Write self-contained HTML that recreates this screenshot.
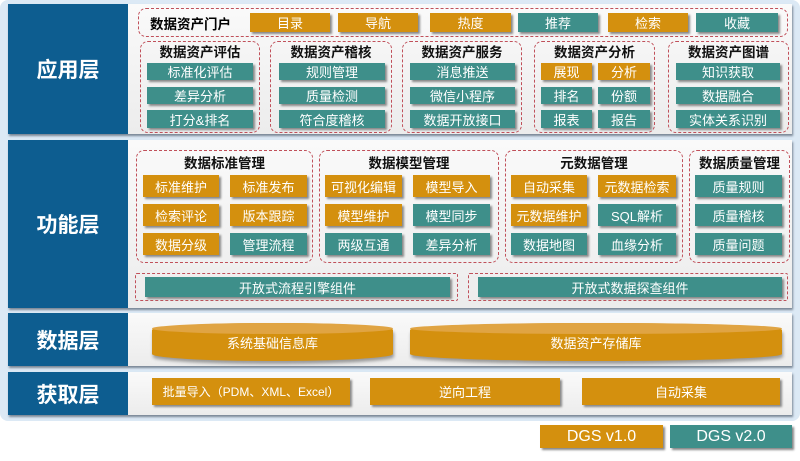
<!DOCTYPE html>
<html><head><meta charset="utf-8"><style>
*{margin:0;padding:0;box-sizing:border-box}
body{width:800px;height:461px;background:#fff;position:relative;overflow:hidden;font-family:"Liberation Sans","Noto Sans CJK SC",sans-serif}
div{position:absolute}
.bg{left:0;top:0;width:800px;height:421px;background:#dce9f5;border-radius:8px}
.layer{left:8px;width:784px;background:linear-gradient(#fafafa,#ececec);box-shadow:1px 2px 2px #7a8796}
.nav{left:0;top:0;width:120px;height:100%;background:#0d5d90;color:#fff;font-weight:bold;font-size:21px;display:flex;align-items:center;justify-content:center}
.dash{border:1.5px dashed #c0505a;border-radius:8px}
.t{font-weight:bold;font-size:13.5px;color:#111;text-align:center;width:100%;line-height:16px}
.b{color:#fff;font-size:13px;display:flex;align-items:center;justify-content:center;box-shadow:2px 2px 2px #888;white-space:nowrap}
.o{background:#d4900e}.g{background:#3e8f8a}
.cyl{background:#d4900e;color:#fff;font-size:13px;display:flex;align-items:center;justify-content:center;border-radius:50%/7px;box-shadow:1px 3px 3px #999}
.cyl::before{content:"";position:absolute;left:0;top:0;width:100%;height:11px;border-radius:50%;background:#e0a443}
</style></head><body>
<div class="bg"></div>

<div class="layer" style="top:4px;height:130px"><div class="nav">应用层</div></div>
<div class="dash" style="left:138px;top:8px;width:650px;height:29px"></div>
<div style="left:150px;top:13px;width:100px;font-weight:bold;font-size:13.5px">数据资产门户</div>
<div class="b o" style="left:250px;top:13px;width:80px;height:19px">目录</div>
<div class="b o" style="left:338px;top:13px;width:80px;height:19px">导航</div>
<div class="b o" style="left:430px;top:13px;width:81px;height:19px">热度</div>
<div class="b g" style="left:518px;top:13px;width:80px;height:19px">推荐</div>
<div class="b o" style="left:608px;top:13px;width:80px;height:19px">检索</div>
<div class="b g" style="left:696px;top:13px;width:82px;height:19px">收藏</div>

<div class="dash" style="left:140px;top:41px;width:120px;height:92px"><div class="t" style="top:3px">数据资产评估</div></div>
<div class="b g" style="left:147px;top:63px;width:106px;height:17px">标准化评估</div>
<div class="b g" style="left:147px;top:87px;width:106px;height:17px">差异分析</div>
<div class="b g" style="left:147px;top:110px;width:106px;height:18px">打分&amp;排名</div>

<div class="dash" style="left:270px;top:41px;width:122px;height:92px"><div class="t" style="top:3px">数据资产稽核</div></div>
<div class="b g" style="left:279px;top:63px;width:106px;height:17px">规则管理</div>
<div class="b g" style="left:279px;top:87px;width:106px;height:17px">质量检测</div>
<div class="b g" style="left:279px;top:110px;width:106px;height:18px">符合度稽核</div>

<div class="dash" style="left:402px;top:41px;width:120px;height:92px"><div class="t" style="top:3px">数据资产服务</div></div>
<div class="b g" style="left:410px;top:63px;width:105px;height:17px">消息推送</div>
<div class="b g" style="left:410px;top:87px;width:105px;height:17px">微信小程序</div>
<div class="b g" style="left:410px;top:110px;width:105px;height:18px">数据开放接口</div>

<div class="dash" style="left:534px;top:41px;width:121px;height:92px"><div class="t" style="top:3px">数据资产分析</div></div>
<div class="b o" style="left:541px;top:63px;width:51px;height:17px">展现</div>
<div class="b o" style="left:598px;top:63px;width:52px;height:17px">分析</div>
<div class="b g" style="left:541px;top:87px;width:51px;height:17px">排名</div>
<div class="b g" style="left:598px;top:87px;width:52px;height:17px">份额</div>
<div class="b g" style="left:541px;top:110px;width:51px;height:18px">报表</div>
<div class="b g" style="left:598px;top:110px;width:52px;height:18px">报告</div>

<div class="dash" style="left:668px;top:41px;width:121px;height:92px"><div class="t" style="top:3px">数据资产图谱</div></div>
<div class="b g" style="left:676px;top:63px;width:104px;height:17px">知识获取</div>
<div class="b g" style="left:676px;top:87px;width:104px;height:17px">数据融合</div>
<div class="b g" style="left:676px;top:110px;width:104px;height:18px">实体关系识别</div>

<div class="layer" style="top:140px;height:168px"><div class="nav">功能层</div></div>
<div class="dash" style="left:136px;top:150px;width:177px;height:113px"><div class="t" style="top:5px">数据标准管理</div></div>
<div class="b o" style="left:143px;top:175px;width:76px;height:22px">标准维护</div>
<div class="b o" style="left:230px;top:175px;width:77px;height:22px">标准发布</div>
<div class="b o" style="left:143px;top:204px;width:76px;height:22px">检索评论</div>
<div class="b o" style="left:230px;top:204px;width:77px;height:22px">版本跟踪</div>
<div class="b o" style="left:143px;top:233px;width:76px;height:22px">数据分级</div>
<div class="b g" style="left:230px;top:233px;width:77px;height:22px">管理流程</div>

<div class="dash" style="left:319px;top:150px;width:180px;height:113px"><div class="t" style="top:5px">数据模型管理</div></div>
<div class="b o" style="left:325px;top:175px;width:77px;height:22px">可视化编辑</div>
<div class="b o" style="left:413px;top:175px;width:77px;height:22px">模型导入</div>
<div class="b o" style="left:325px;top:204px;width:77px;height:22px">模型维护</div>
<div class="b g" style="left:413px;top:204px;width:77px;height:22px">模型同步</div>
<div class="b g" style="left:325px;top:233px;width:77px;height:22px">两级互通</div>
<div class="b g" style="left:413px;top:233px;width:77px;height:22px">差异分析</div>

<div class="dash" style="left:505px;top:150px;width:178px;height:113px"><div class="t" style="top:5px">元数据管理</div></div>
<div class="b o" style="left:511px;top:175px;width:76px;height:22px">自动采集</div>
<div class="b o" style="left:598px;top:175px;width:78px;height:22px">元数据检索</div>
<div class="b o" style="left:511px;top:204px;width:76px;height:22px">元数据维护</div>
<div class="b g" style="left:598px;top:204px;width:78px;height:22px">SQL解析</div>
<div class="b g" style="left:511px;top:233px;width:76px;height:22px">数据地图</div>
<div class="b g" style="left:598px;top:233px;width:78px;height:22px">血缘分析</div>

<div class="dash" style="left:689px;top:150px;width:101px;height:113px"><div class="t" style="top:5px">数据质量管理</div></div>
<div class="b g" style="left:695px;top:175px;width:87px;height:22px">质量规则</div>
<div class="b g" style="left:695px;top:204px;width:87px;height:22px">质量稽核</div>
<div class="b g" style="left:695px;top:233px;width:87px;height:22px">质量问题</div>

<div class="dash" style="left:135px;top:273px;width:323px;height:28px;border-radius:2px"></div>
<div class="b g" style="left:145px;top:277px;width:305px;height:20px">开放式流程引擎组件</div>
<div class="dash" style="left:468px;top:273px;width:320px;height:28px;border-radius:2px"></div>
<div class="b g" style="left:478px;top:277px;width:304px;height:20px">开放式数据探查组件</div>

<div class="layer" style="top:313px;height:53px"><div class="nav">数据层</div></div>
<div class="cyl" style="left:152px;top:323px;width:241px;height:38px">系统基础信息库</div>
<div class="cyl" style="left:410px;top:323px;width:372px;height:38px">数据资产存储库</div>

<div class="layer" style="top:372px;height:43px"><div class="nav">获取层</div></div>
<div class="b o" style="left:152px;top:378px;width:198px;height:27px;font-size:12px">批量导入（PDM、XML、Excel）</div>
<div class="b o" style="left:370px;top:378px;width:190px;height:27px">逆向工程</div>
<div class="b o" style="left:582px;top:378px;width:198px;height:27px">自动采集</div>

<div class="b o" style="left:540px;top:425px;width:123px;height:23px;font-size:16px">DGS v1.0</div>
<div class="b g" style="left:670px;top:425px;width:122px;height:23px;font-size:16px">DGS v2.0</div>
</body></html>
